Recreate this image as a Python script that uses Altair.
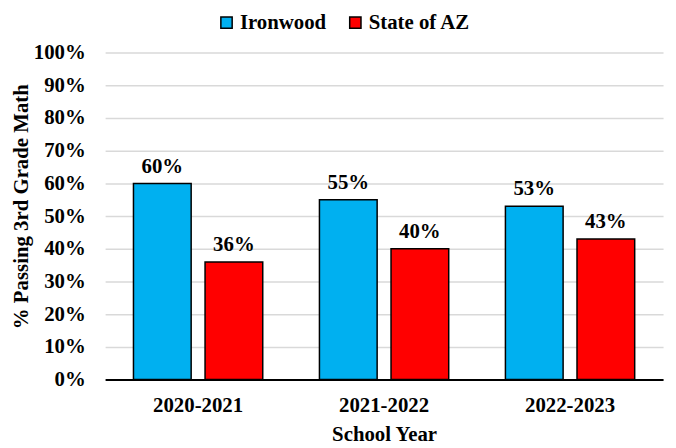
import altair as alt
import pandas as pd

years = ["2020-2021", "2021-2022", "2022-2023"]
series = ["Ironwood", "State of AZ"]
ironwood = [60, 55, 53]
state = [36, 40, 43]
colors = ["#00B0F0", "#FF0000"]
ticks = [0, 10, 20, 30, 40, 50, 60, 70, 80, 90, 100]

rows = []
for i, y in enumerate(years):
    rows.append({"year": y, "series": series[0], "value": ironwood[i] / 100})
    rows.append({"year": y, "series": series[1], "value": state[i] / 100})
df = pd.DataFrame(rows)

FONT = "Liberation Serif"

x = alt.X("year:N", sort=years, title="School Year",
          scale=alt.Scale(paddingInner=0, paddingOuter=0),
          axis=alt.Axis(labelAngle=0, labelFontSize=21, labelFontWeight="bold",
                        labelFont=FONT, labelColor="black", labelPadding=15,
                        titleFontSize=21, titleFontWeight="bold", titleFont=FONT,
                        titleColor="black", titlePadding=8,
                        domainColor="black", domainWidth=2, ticks=False, grid=False))
xo = alt.XOffset("series:N", sort=series,
                 scale=alt.Scale(paddingInner=0.194, paddingOuter=0.396))
y = alt.Y("value:Q", title="% Passing 3rd Grade Math",
          scale=alt.Scale(domain=[0, 1]),
          axis=alt.Axis(format=".0%", values=[t / 100 for t in ticks],
                        labelOverlap=False,
                        labelFontSize=21, labelFontWeight="bold", labelFont=FONT,
                        labelColor="black", labelPadding=20,
                        titleFontSize=21, titleFontWeight="bold", titleFont=FONT,
                        titleColor="black", titleX=-84, titleY=155,
                        titleBaseline="middle",
                        domain=False, ticks=False, gridColor="#d9d9d9", gridWidth=1.5))

base = alt.Chart(df)

bars = base.mark_bar(stroke="black", strokeWidth=1.5).encode(
    x=x,
    xOffset=xo,
    y=y,
    color=alt.Color("series:N", sort=series,
                    scale=alt.Scale(domain=series, range=colors),
                    legend=alt.Legend(title=None, orient="none", direction="horizontal",
                                      legendX=112, legendY=-41,
                                      symbolType="square", symbolSize=130,
                                      symbolStrokeColor="black", symbolStrokeWidth=1.5,
                                      labelFontSize=21, labelFontWeight="bold",
                                      labelFont=FONT, labelColor="black",
                                      columnPadding=18, labelOffset=3)),
)

labels = base.mark_text(baseline="bottom", dy=-7, fontSize=21, fontWeight="bold",
                        font=FONT, color="black").encode(
    x=x,
    xOffset=xo,
    y=y,
    text=alt.Text("value:Q", format=".0%"),
)

chart = (bars + labels).properties(
    width=563, height=330,
    background="white",
    autosize=alt.AutoSizeParams(type="none"),
    padding={"left": 98, "top": 43, "right": 5, "bottom": 66},
).configure_view(stroke=None)

chart.save("out.html", embed_options={"renderer": "svg", "actions": False})
